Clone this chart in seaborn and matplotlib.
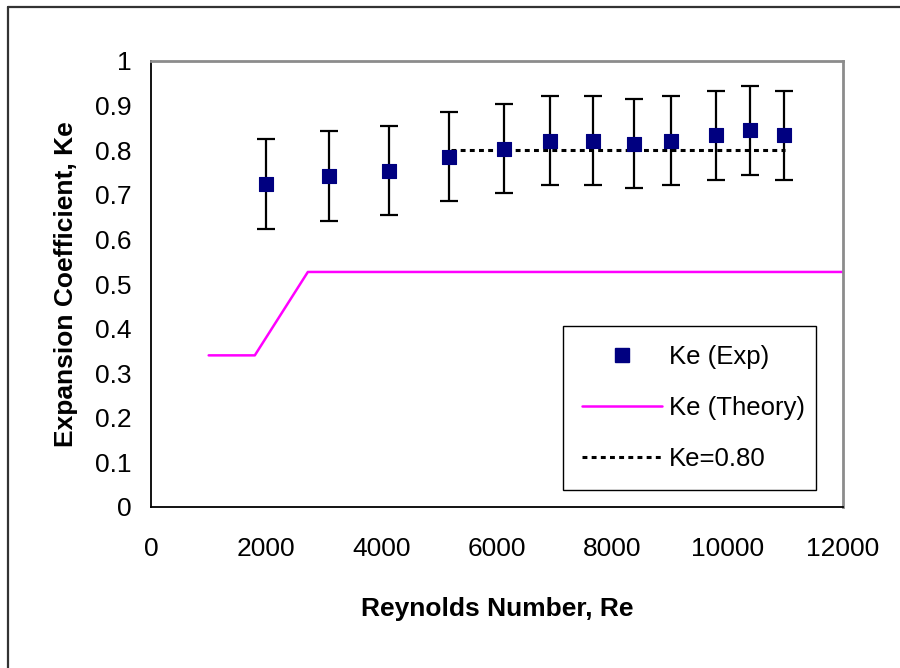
import matplotlib
matplotlib.use("Agg")
import matplotlib.pyplot as plt
from matplotlib.lines import Line2D
import seaborn as sns
import pandas as pd

# ---- data ----
re_exp = [1990, 3080, 4120, 5170, 6120, 6920, 7670, 8380, 9020, 9800, 10390, 10970]
ke_exp = [0.724, 0.742, 0.754, 0.785, 0.803, 0.821, 0.821, 0.815, 0.821, 0.833, 0.845, 0.833]
ke_err = [0.10, 0.10, 0.10, 0.10, 0.10, 0.10, 0.10, 0.10, 0.10, 0.10, 0.10, 0.10]

re_theory = [1000, 1800, 2720, 12000]
ke_theory = [0.34, 0.34, 0.527, 0.527]

re_ref = [5200, 11000]
ke_ref = [0.80, 0.80]

x_ticks = [0, 2000, 4000, 6000, 8000, 10000, 12000]
y_ticks = [0, 0.1, 0.2, 0.3, 0.4, 0.5, 0.6, 0.7, 0.8, 0.9, 1.0]
y_tick_labels = ["0", "0.1", "0.2", "0.3", "0.4", "0.5", "0.6", "0.7", "0.8", "0.9", "1"]

labels = ["Ke (Exp)", "Ke (Theory)", "Ke=0.80"]

sns.set_style("white")
plt.rcParams["font.family"] = ["Liberation Sans", "DejaVu Sans"]
plt.rcParams["text.color"] = "black"
plt.rcParams["axes.labelcolor"] = "black"

df_exp = pd.DataFrame({"Re": re_exp, "Ke": ke_exp, "err": ke_err})
df_th = pd.DataFrame({"Re": re_theory, "Ke": ke_theory})
df_ref = pd.DataFrame({"Re": re_ref, "Ke": ke_ref})

fig = plt.figure(figsize=(9, 6.68), dpi=100)
ax = fig.add_axes([151 / 900, 1 - 507 / 668, (843 - 151) / 900, (507 - 61) / 668])

navy = "#000080"
magenta = "#FF00FF"

sns.lineplot(data=df_th, x="Re", y="Ke", ax=ax, color=magenta, lw=1.8,
             sort=False, estimator=None, zorder=2)
dotted = (0, (1.6, 1.4))
sns.lineplot(data=df_ref, x="Re", y="Ke", ax=ax, color="black", lw=2.2,
             linestyle=dotted, sort=False, estimator=None, zorder=2)
ax.errorbar(df_exp["Re"], df_exp["Ke"], yerr=df_exp["err"], fmt="none",
            ecolor="black", elinewidth=1.6, capsize=6.5, capthick=1.6, zorder=3)
sns.scatterplot(data=df_exp, x="Re", y="Ke", ax=ax, marker="s", s=115,
                color=navy, edgecolor=navy, linewidth=0.8, zorder=4)

ax.set_xlim(0, 12000)
ax.set_ylim(0, 1)
ax.set_xticks(x_ticks)
ax.set_xticklabels([str(t) for t in x_ticks])
ax.set_yticks(y_ticks)
ax.set_yticklabels(y_tick_labels)
ax.tick_params(axis="both", which="major", direction="out", length=6, width=1.2,
               color="black", labelsize=19, labelcolor="black")
ax.tick_params(axis="x", pad=15.5)
ax.tick_params(axis="y", pad=8)
ax.grid(False)

for side in ["left", "bottom"]:
    ax.spines[side].set_color("black")
    ax.spines[side].set_linewidth(1.3)
for side in ["top", "right"]:
    ax.spines[side].set_color("#8c8c8c")
    ax.spines[side].set_linewidth(2.0)

ax.set_xlabel("Reynolds Number, Re", fontsize=19, fontweight="bold", labelpad=26,
              color="black")
ax.set_ylabel("Expansion Coefficient, Ke", fontsize=19, fontweight="bold", labelpad=12,
              color="black")

handles = [
    Line2D([], [], marker="s", color=navy, linestyle="none", markersize=10.5),
    Line2D([], [], color=magenta, lw=1.8),
    Line2D([], [], color="black", lw=2.2, linestyle=dotted),
]
leg = ax.legend(handles, labels, loc="lower left",
                bbox_to_anchor=(0.595, 0.038, 0.366, 0.366), mode="expand",
                fontsize=18.5, frameon=True, fancybox=False, shadow=False,
                borderaxespad=0, borderpad=0.75, handlelength=3.1,
                handletextpad=0.3, handleheight=0.7, labelspacing=1.05)
leg.get_frame().set_edgecolor("black")
leg.get_frame().set_linewidth(1.0)
leg.get_frame().set_alpha(1)

# outer chart border (partially cut off, as in the reference)
fig.add_artist(Line2D([8 / 900, 1.0], [1 - 7 / 668, 1 - 7 / 668],
                      transform=fig.transFigure, color="#333333", lw=1.6))
fig.add_artist(Line2D([8 / 900, 8 / 900], [0, 1 - 7 / 668],
                      transform=fig.transFigure, color="#333333", lw=1.6))

fig.savefig("out.png", dpi=100)
